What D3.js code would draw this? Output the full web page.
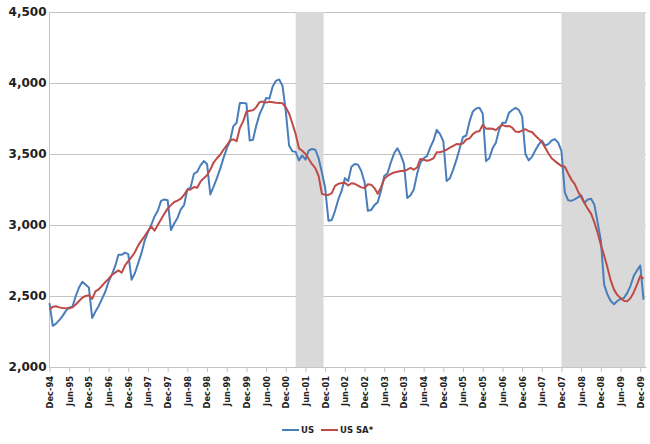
<!DOCTYPE html>
<html>
<head>
<meta charset="utf-8">
<script src="https://cdn.jsdelivr.net/npm/d3@7"></script>
<style>
  body { margin: 0; background: #fff; }
  svg text { font-family: "DejaVu Sans", Verdana, sans-serif; font-weight: bold; fill: #222; }
</style>
</head>
<body>
<div id="graf"></div>
<script>
// monthly, Dec-94 .. Jan-10
const startDate = new Date(1994, 11, 1);

const us = [
  2450, 2290, 2305, 2330, 2360, 2395, 2420, 2425, 2500, 2560, 2600, 2580,
  2560, 2345, 2390, 2430, 2480, 2530, 2600, 2650, 2710, 2790, 2790, 2805,
  2795, 2615, 2660, 2730, 2800, 2890, 2950, 3000, 3060, 3100, 3170, 3180,
  3175, 2965, 3010, 3050, 3110, 3140, 3250, 3265, 3360, 3375, 3420, 3450,
  3430, 3215, 3270, 3330, 3395, 3470, 3540, 3590, 3695, 3720, 3860, 3860,
  3855, 3595, 3600, 3700, 3780, 3830, 3895, 3890, 3975, 4015, 4025, 3980,
  3800, 3560, 3520, 3515, 3455, 3490, 3460, 3525, 3535, 3530, 3470, 3370,
  3260, 3030, 3035, 3100, 3180, 3240, 3330, 3310, 3410, 3430, 3425, 3380,
  3300, 3100, 3105, 3140, 3160, 3240, 3345, 3365, 3440, 3505, 3540, 3495,
  3430, 3190, 3210, 3250, 3360, 3440, 3470, 3485, 3545, 3595, 3670, 3640,
  3590, 3310, 3330, 3390, 3460, 3540, 3620, 3630, 3730, 3800, 3820, 3825,
  3785, 3450, 3470, 3540, 3580, 3670, 3720, 3720, 3790, 3810, 3825, 3810,
  3765, 3500, 3455, 3480, 3525, 3565, 3595, 3560, 3570, 3595, 3605, 3580,
  3520, 3230, 3175, 3170, 3180, 3195, 3210, 3155, 3180, 3185, 3145, 3020,
  2890, 2580, 2510, 2465, 2442, 2465, 2480, 2485, 2520, 2570, 2640, 2680,
  2715, 2475
];

const usSA = [
  2405, 2425, 2428, 2420, 2415, 2413, 2413, 2420, 2440, 2465, 2488, 2500,
  2505, 2480, 2532, 2547, 2572, 2598, 2620, 2648, 2665, 2680, 2664, 2715,
  2745, 2775, 2808, 2855, 2890, 2922, 2958, 2990, 2960, 3000, 3040, 3080,
  3115, 3140, 3162, 3172, 3185, 3212, 3248, 3250, 3268, 3262, 3305, 3330,
  3350, 3390, 3440, 3470, 3495, 3530, 3560, 3595, 3603, 3590, 3683, 3730,
  3798, 3805, 3808, 3830, 3865, 3870, 3862, 3868, 3865, 3861, 3860, 3857,
  3828, 3785, 3715, 3640, 3540, 3523, 3500, 3465, 3428, 3400, 3345, 3220,
  3212, 3212, 3225, 3275, 3290, 3295, 3298, 3278, 3294, 3290, 3278, 3265,
  3260, 3287, 3284, 3260, 3220, 3265, 3325, 3345, 3360, 3370, 3375, 3380,
  3380, 3390, 3402, 3390, 3405, 3465, 3460, 3453, 3458, 3470, 3512, 3512,
  3520, 3530, 3545, 3558, 3570, 3568, 3575, 3602, 3610, 3640, 3657, 3660,
  3705, 3678, 3680, 3678, 3668, 3690, 3705, 3695, 3698, 3685, 3658, 3655,
  3665, 3675, 3660, 3655, 3630, 3608, 3585, 3545, 3505, 3470, 3450, 3432,
  3415, 3410, 3365, 3320, 3290, 3238, 3195, 3155, 3115, 3080, 3020, 2945,
  2860, 2785, 2700, 2610, 2545, 2508, 2485, 2467, 2462, 2485, 2525, 2580,
  2640, 2622
];

const tickLabels = [
  "Dec-94", "Jun-95", "Dec-95", "Jun-96", "Dec-96", "Jun-97", "Dec-97", "Jun-98",
  "Dec-98", "Jun-99", "Dec-99", "Jun-00", "Dec-00", "Jun-01", "Dec-01", "Jun-02",
  "Dec-02", "Jun-03", "Dec-03", "Jun-04", "Dec-04", "Jun-05", "Dec-05", "Jun-06",
  "Dec-06", "Jun-07", "Dec-07", "Jun-08", "Dec-08", "Jun-09", "Dec-09"
];

const yTicks = [2000, 2500, 3000, 3500, 4000, 4500];

// recessions (shaded)
const recessionStart = ["Mar-01", "Dec-07"];
const recessionEnd = ["Nov-01", "Jan-10"];

const seriesNames = ["US", "US SA*"];
const seriesColors = ["#4a7ebb", "#be4b48"];

// month labels for every data point
const fmt = d3.timeFormat("%b-%y");
const months = us.map((d, i) => fmt(new Date(startDate.getFullYear(), startDate.getMonth() + i, 1)));

const anchoTotal = 650, altoTotal = 444;
const margins = { left: 49.5, right: 646, top: 12, bottom: 367 };

const svg = d3.select("#graf").append("svg")
  .attr("width", anchoTotal)
  .attr("height", altoTotal);

const x = d3.scaleLinear().domain([0, us.length - 0.25]).range([margins.left, margins.right]);
const y = d3.scaleLinear().domain([2000, 4500]).range([margins.bottom, margins.top]);

// gridlines + y labels
const yAxis = d3.axisLeft(y)
  .tickValues(yTicks)
  .tickFormat(d3.format(","))
  .tickSize(-(margins.right - margins.left))
  .tickPadding(3);
const yAxisGroup = svg.append("g")
  .attr("transform", `translate(${margins.left}, 0)`)
  .call(yAxis);
yAxisGroup.select(".domain").remove();
yAxisGroup.selectAll(".tick line").attr("stroke", "#c4c4c4");
yAxisGroup.selectAll(".tick text").style("font-size", "12px");

// recession bands
svg.append("g").selectAll("rect")
  .data(recessionStart.map((s, i) => [months.indexOf(s), months.indexOf(recessionEnd[i])]))
  .join("rect")
  .attr("x", (d) => x(d[0]))
  .attr("y", margins.top)
  .attr("width", (d) => Math.min(x(d[1] + 0.5), margins.right) - x(d[0]))
  .attr("height", margins.bottom - margins.top)
  .attr("fill", "#d9d9d9");

// x axis
const xAxis = d3.axisBottom(x)
  .tickValues(tickLabels.map((t) => months.indexOf(t)))
  .tickFormat((i) => months[i])
  .tickSize(5)
  .tickSizeOuter(0);
const xAxisGroup = svg.append("g")
  .attr("transform", `translate(0, ${margins.bottom})`)
  .call(xAxis);
xAxisGroup.select(".domain").attr("stroke", "#c4c4c4");
xAxisGroup.selectAll(".tick line").attr("stroke", "#c4c4c4");
xAxisGroup.selectAll(".tick text")
  .style("font-size", "8.3px")
  .attr("text-anchor", "end")
  .attr("transform", "rotate(-90)")
  .attr("x", -9)
  .attr("y", 0)
  .attr("dy", "0.35em");

// y axis line
svg.append("line")
  .attr("x1", margins.left).attr("x2", margins.left)
  .attr("y1", margins.top).attr("y2", margins.bottom + 1)
  .attr("stroke", "#c4c4c4");

// series
const line = d3.line().x((d, i) => x(i)).y((d) => y(d));
[us, usSA].forEach((serie, k) => {
  svg.append("path")
    .datum(serie)
    .attr("fill", "none")
    .attr("stroke", seriesColors[k])
    .attr("stroke-width", 2)
    .attr("stroke-linejoin", "round")
    .attr("d", line);
});

// legend
const legendX = [282, 321];
const legend = svg.append("g").attr("transform", "translate(0, 430)");
seriesNames.forEach((name, k) => {
  legend.append("line")
    .attr("x1", legendX[k]).attr("x2", legendX[k] + 17)
    .attr("y1", 0).attr("y2", 0)
    .attr("stroke", seriesColors[k])
    .attr("stroke-width", 2);
  legend.append("text")
    .attr("x", legendX[k] + 19)
    .attr("y", 0)
    .attr("dy", "0.35em")
    .style("font-size", "8.5px")
    .text(name);
});
</script>
</body>
</html>
